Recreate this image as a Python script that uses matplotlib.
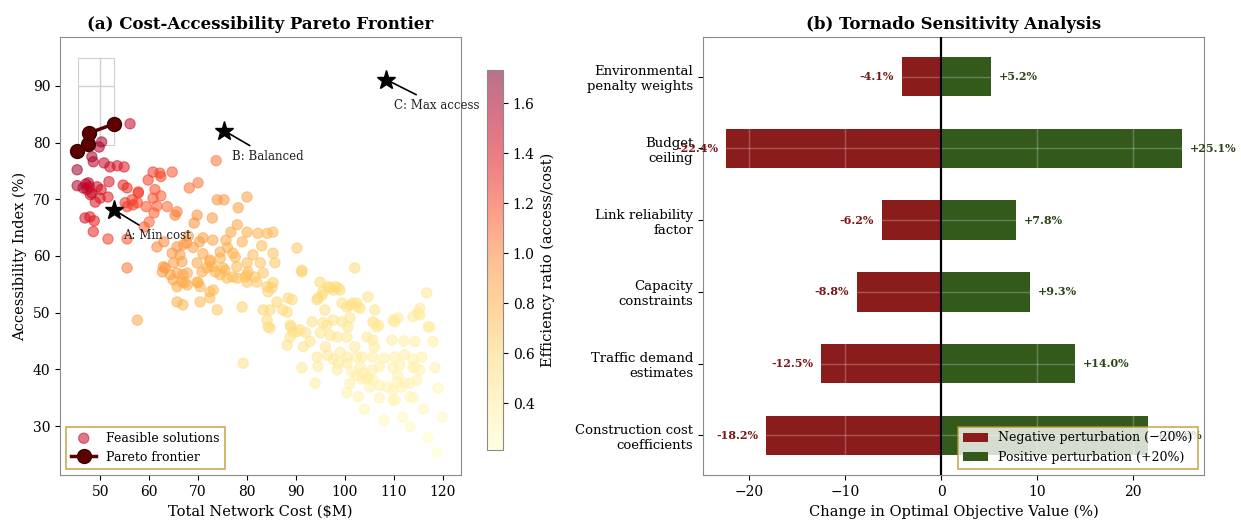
import numpy as np
import matplotlib
matplotlib.use("Agg")
import matplotlib.pyplot as plt

plt.rcParams['font.family'] = ['DejaVu Serif']

# ---------------- data: panel (a) ----------------
cost = [56.1,45.3,50.3,49.8,48.3,48.6,50.8,52.0,53.5,54.9,45.3,47.1,47.8,47.3,48.3,49.4,50.2,49.0,50.0,51.8,
        51.6,54.7,55.5,55.1,56.5,56.7,55.5,57.8,46.9,47.9,48.8,48.6,51.6,55.5,55.5,57.6,47.6,48.0,46.5,
        59.4,59.8,60.8,62.2,62.4,64.7,61.2,61.0,60.0,59.0,61.6,63.7,65.7,65.3,68.2,70.0,69.8,69.2,72.9,73.9,
        75.3,78.2,80.0,73.7,61.6,65.7,67.7,70.3,73.0,75.7,76.7,80.0,82.2,84.1,85.3,74.5,77.1,81.2,85.3,90.2,
        62.4,60.8,57.8,64.7,66.3,72.4,74.5,77.6,62.9,65.0,66.7,69.8,72.4,75.1,77.9,62.7,64.3,66.9,67.3,65.7,
        69.8,70.4,73.5,75.5,77.1,80.0,81.6,83.3,84.1,85.3,86.1,88.4,87.3,65.7,66.9,70.4,72.4,73.1,73.9,79.0,
        57.6,83.3,84.1,84.3,88.8,89.4,90.8,63.3,65.7,64.9,66.7,67.8,67.8,70.0,70.8,71.8,72.9,72.4,74.5,75.9,
        78.0,79.6,80.0,82.0,80.2,80.0,82.7,85.7,85.1,84.3,84.7,84.7,79.2,88.2,89.2,91.2,102.0,88.2,88.8,90.2,
        91.2,67.0,69.0,71.0,63.0,68.0,76.0,79.0,83.0,78.0,71.0,
        93.3,92.9,94.3,93.9,94.9,94.5,95.5,95.9,96.3,96.9,98.0,98.6,97.6,98.4,99.0,97.6,98.6,98.4,100.4,100.4,
        99.4,100.4,101.6,102.7,101.0,100.6,100.4,102.0,102.4,103.1,103.7,104.7,105.1,100.4,102.7,103.5,104.5,
        105.7,105.7,105.5,104.5,104.7,106.1,105.7,106.9,109.8,110.8,109.6,110.2,109.8,111.2,110.8,110.6,111.6,
        109.8,113.3,113.9,112.2,113.9,114.3,115.3,114.7,113.3,115.7,114.3,114.9,115.3,116.7,117.3,118.0,118.4,
        119.0,119.8,118.8,111.8,113.3,91.2,96.5,97.6,95.3,94.3,101.0,102.4,103.1,113.9,115.3,95.5,99.4,105.9,
        106.5,110.2,117.0,101.4,102.4,103.5,105.7,107.1,108.6,109.8,112.2,113.9,110.2,107.0,108.0,106.0,96.0,
        97.0,99.0,107.0,116.0,117.0,104.0,108.0,101.0,112.0,89.0,91.5,92.0,94.5,96.5,95.0]
access = [83.3,75.2,80.1,79.2,77.5,76.6,76.4,75.7,75.9,75.7,72.4,72.7,72.2,71.7,71.1,72.2,71.7,69.5,70.2,73.1,
          70.4,72.5,72.0,69.4,69.9,69.0,68.7,71.1,66.7,66.9,66.2,64.3,63.0,63.0,57.9,69.4,72.9,70.8,72.0,
          68.7,73.4,74.8,74.6,74.0,74.8,71.7,67.6,66.0,65.1,68.8,68.7,67.8,67.2,72.0,72.9,67.2,65.8,66.7,69.9,
          69.9,68.5,70.4,76.8,61.6,61.6,62.3,62.5,62.8,62.8,64.2,64.2,64.0,64.0,64.2,60.7,60.5,60.2,60.5,61.4,
          70.6,70.2,71.3,60.5,60.2,59.3,59.6,59.8,58.1,58.8,59.0,58.8,59.0,57.9,58.1,57.2,56.7,56.7,55.3,54.6,
          55.4,54.6,57.2,57.5,56.3,56.7,56.3,57.0,54.6,55.3,51.9,52.6,50.5,51.9,51.4,51.9,52.6,54.0,50.5,51.0,
          48.7,50.5,48.7,47.5,47.8,46.6,47.0,57.9,57.0,55.8,55.4,57.0,54.9,55.3,57.2,57.9,58.1,53.7,56.7,56.1,
          56.1,56.3,55.4,55.4,57.2,58.8,58.8,58.8,54.4,53.7,50.5,47.3,41.1,50.1,52.3,57.2,57.9,44.3,45.7,46.6,
          40.3,62.0,61.5,63.2,62.5,63.5,61.5,62.5,61.8,65.5,60.4,
          48.4,44.9,42.2,37.6,55.4,52.6,53.7,50.5,47.8,54.4,54.6,54.4,48.7,45.7,54.0,41.8,41.1,39.9,42.2,41.1,
          51.7,51.0,51.7,51.0,49.1,47.5,45.7,44.0,42.2,40.5,39.4,38.5,36.9,35.9,35.2,42.2,45.7,
          45.2,42.2,39.9,38.5,52.8,50.5,48.4,47.8,48.7,49.1,45.2,42.2,40.3,40.8,39.0,37.8,36.9,
          34.6,35.2,40.3,42.6,41.8,40.5,39.9,38.1,37.6,42.2,44.9,50.0,50.8,53.5,47.5,44.9,40.3,
          36.7,31.6,25.3,31.6,29.9,57.5,54.6,54.0,53.1,52.3,51.3,51.7,50.8,49.3,49.6,48.2,48.4,48.2,
          47.5,48.4,47.5,39.6,38.9,38.3,38.1,37.2,36.9,36.3,37.6,35.0,34.6,40.5,42.0,44.0,44.0,
          46.0,43.0,35.0,33.0,28.0,33.0,31.0,37.5,45.0,47.5,44.0,46.5,40.5,42.5,46.5]

pareto_cost = [45.3, 47.6, 47.8, 52.9]
pareto_access = [78.5, 79.8, 81.7, 83.3]

key_labels = ["A: Min cost", "B: Balanced", "C: Max access"]
key_cost = [52.9, 75.3, 108.4]
key_access = [68.1, 82.1, 91.1]

# ---------------- data: panel (b) ----------------
params = ["Environmental\npenalty weights", "Budget\nceiling", "Link reliability\nfactor",
          "Capacity\nconstraints", "Traffic demand\nestimates", "Construction cost\ncoefficients"]
neg_change = [-4.1, -22.4, -6.2, -8.8, -12.5, -18.2]
pos_change = [5.2, 25.1, 7.8, 9.3, 14.0, 21.6]

W, H = 1241, 523
fig = plt.figure(figsize=(W / 100, H / 100), dpi=100)

def box(l, t, r, b):
    return [l / W, 1 - b / H, (r - l) / W, (b - t) / H]

spine_col = '#8a8a8a'
frame_col = '#b8962e'

# ---------------- panel (a) ----------------
ax1 = fig.add_axes(box(60, 37, 461, 475))
# all feasible solutions (frontier points are feasible too)
all_cost = np.array(cost + pareto_cost)
all_acc = np.array(access + pareto_access)
ratio = all_acc / all_cost
sc = ax1.scatter(all_cost, all_acc, c=ratio, cmap='YlOrRd', s=55, alpha=0.55,
                 linewidths=0.8, label='Feasible solutions', zorder=2)

# light grid box in upper-left corner
ins = ax1.inset_axes([45.5, 79.5, 7.4, 15.4], transform=ax1.transData, zorder=1)
ins.set_xlim(45.5, 52.9)
ins.set_ylim(79.5, 94.9)
ins.set_xticks([50])
ins.set_yticks([90])
ins.tick_params(length=0, labelbottom=False, labelleft=False)
ins.grid(True, color='#d0d0d0', lw=1.0)
ins.patch.set_alpha(0)
for s in ins.spines.values():
    s.set_color('#d0d0d0')

ax1.plot(pareto_cost, pareto_access, '-o', color='#5c0000', lw=2.5, ms=10,
         markeredgecolor='#3d0000', label='Pareto frontier', zorder=4)

ax1.plot(key_cost, key_access, '*', color='black', ms=14, zorder=5, linestyle='none')
for lab, xv, yv in zip(key_labels, key_cost, key_access):
    ax1.annotate(lab, xy=(xv, yv), xytext=(6, -21), textcoords='offset points',
                 fontsize=8.5, color='#222222',
                 arrowprops=dict(arrowstyle='-', color='black', lw=1.2), zorder=5)

ax1.set_xlim(41.8, 123.7)
ax1.set_ylim(21.4, 98.6)
ax1.set_xticks([50, 60, 70, 80, 90, 100, 110, 120])
ax1.set_yticks([30, 40, 50, 60, 70, 80, 90])
ax1.tick_params(labelsize=10)
ax1.set_xlabel('Total Network Cost ($M)', fontsize=10.5)
ax1.set_ylabel('Accessibility Index (%)', fontsize=10.5)
ax1.set_title('(a) Cost-Accessibility Pareto Frontier', fontsize=12, fontweight='bold')
for s in ax1.spines.values():
    s.set_color(spine_col)
leg1 = ax1.legend(loc='lower left', fontsize=9, frameon=True, fancybox=False)
leg1.get_frame().set_edgecolor(frame_col)
leg1.get_frame().set_linewidth(1.2)

cax = fig.add_axes(box(487, 70, 503, 450))
cb = fig.colorbar(sc, cax=cax)
cb.set_label('Efficiency ratio (access/cost)', fontsize=10.5)
cb.set_ticks([0.4, 0.6, 0.8, 1.0, 1.2, 1.4, 1.6])
cb.ax.tick_params(labelsize=10)
cb.outline.set_edgecolor(spine_col)

# ---------------- panel (b) ----------------
ax2 = fig.add_axes(box(703, 37, 1204, 475))
ypos = np.arange(len(params))
ax2.barh(ypos, neg_change, height=0.55, color='#8b1c1c', label='Negative perturbation (\u221220%)')
ax2.barh(ypos, pos_change, height=0.55, color='#33591b', label='Positive perturbation (+20%)')
ax2.axvline(0, color='black', lw=1.6, zorder=3)
for y, n, p in zip(ypos, neg_change, pos_change):
    ax2.text(n - 0.8, y, f'{n:.1f}%', ha='right', va='center', fontsize=8,
             fontweight='bold', color='#7a1515')
    ax2.text(p + 0.8, y, f'+{p:.1f}%', ha='left', va='center', fontsize=8,
             fontweight='bold', color='#2a4416')
ax2.set_yticks(ypos)
ax2.set_yticklabels(params, fontsize=9.5)
ax2.invert_yaxis()
ax2.set_xlim(-24.8, 27.4)
ax2.set_xticks([-20, -10, 0, 10, 20])
ax2.tick_params(axis='x', labelsize=10)
ax2.grid(True, color='white', alpha=0.25, lw=1.0)
ax2.set_xlabel('Change in Optimal Objective Value (%)', fontsize=10.5)
ax2.set_title('(b) Tornado Sensitivity Analysis', fontsize=12, fontweight='bold')
for s in ax2.spines.values():
    s.set_color(spine_col)
leg2 = ax2.legend(loc='lower right', fontsize=9, frameon=True, fancybox=False)
leg2.get_frame().set_edgecolor(frame_col)
leg2.get_frame().set_linewidth(1.2)

fig.savefig('out.png', dpi=100)
